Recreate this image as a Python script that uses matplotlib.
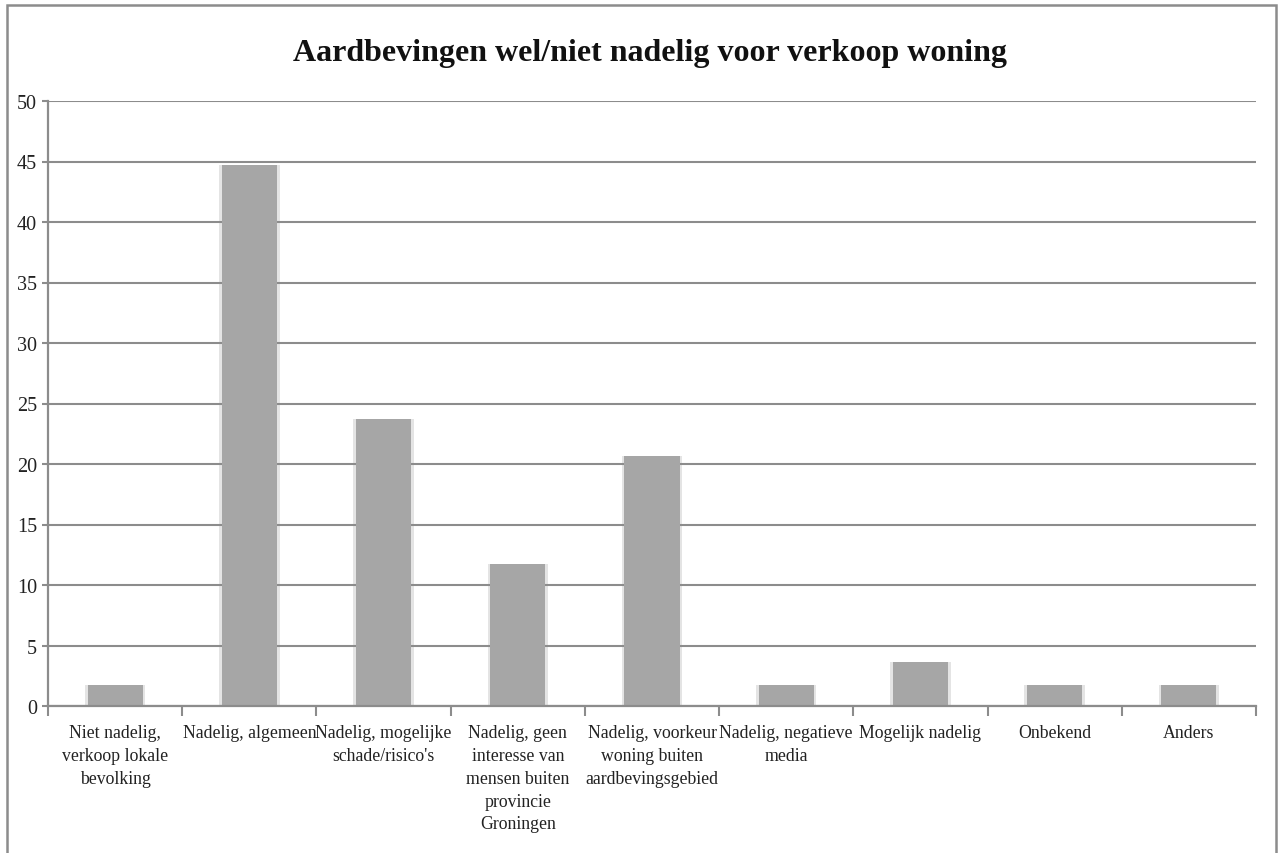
import matplotlib
matplotlib.use("Agg")
import matplotlib.pyplot as plt
from matplotlib.patches import Rectangle

title = "Aardbevingen wel/niet nadelig voor verkoop woning"
categories = [
    "Niet nadelig,\nverkoop lokale\nbevolking",
    "Nadelig, algemeen",
    "Nadelig, mogelijke\nschade/risico's",
    "Nadelig, geen\ninteresse van\nmensen buiten\nprovincie\nGroningen",
    "Nadelig, voorkeur\nwoning buiten\naardbevingsgebied",
    "Nadelig, negatieve\nmedia",
    "Mogelijk nadelig",
    "Onbekend",
    "Anders",
]
values = [1.7, 44.7, 23.7, 11.7, 20.7, 1.7, 3.6, 1.7, 1.7]
yticks = [0, 5, 10, 15, 20, 25, 30, 35, 40, 45, 50]

W, H = 1278, 854
fig = plt.figure(figsize=(W / 100, H / 100), dpi=100)
ax = fig.add_axes([48 / W, 1 - 707 / H, (1256 - 48) / W, (707 - 102) / H])

font = dict(family=["Liberation Serif", "DejaVu Serif"])
grey = "#8c8c8c"
barc = "#a6a6a6"

x = list(range(len(categories)))
# soft edge halo
ax.bar(x, values, width=0.45, color=barc, alpha=0.3, linewidth=0, zorder=1)
ax.bar(x, values, width=0.41, color=barc, linewidth=0, zorder=2)

ax.set_xlim(-0.5, len(categories) - 0.5)
ax.set_ylim(0, 50)
ax.set_yticks(yticks)
ax.set_yticklabels([str(v) for v in yticks], fontsize=14.5, color="#222222", **font)
ax.yaxis.grid(True, color=grey, linewidth=1.5)
for gl in ax.get_ygridlines():
    gl.set_zorder(3)
ax.tick_params(axis="y", length=4, width=1.5, color=grey, pad=4)

ax.set_xticks(x)
ax.set_xticklabels(categories, fontsize=12.8, color="#222222", linespacing=1.45,
                   va="top", **font)
ax.tick_params(axis="x", length=0, pad=13)
ax.set_xticks([i + 0.5 for i in range(-1, len(categories))], minor=True)
ax.tick_params(axis="x", which="minor", length=7, width=1.5, color=grey)

for s in ["top", "right"]:
    ax.spines[s].set_visible(False)
for s in ["left", "bottom"]:
    ax.spines[s].set_color(grey)
    ax.spines[s].set_linewidth(1.6)
    ax.spines[s].set_zorder(4)

fig.text(650 / W, 1 - 54 / H, title, ha="center", va="center", fontsize=23,
         fontweight="bold", color="#111111", **font)

border = Rectangle((7 / W, -0.1), (1275.5 - 7) / W, 1.1 - 6 / H,
                   transform=fig.transFigure, fill=False, edgecolor=grey,
                   linewidth=1.8, zorder=0)
fig.patches.append(border)

fig.savefig("out.png", dpi=100, facecolor="white")
